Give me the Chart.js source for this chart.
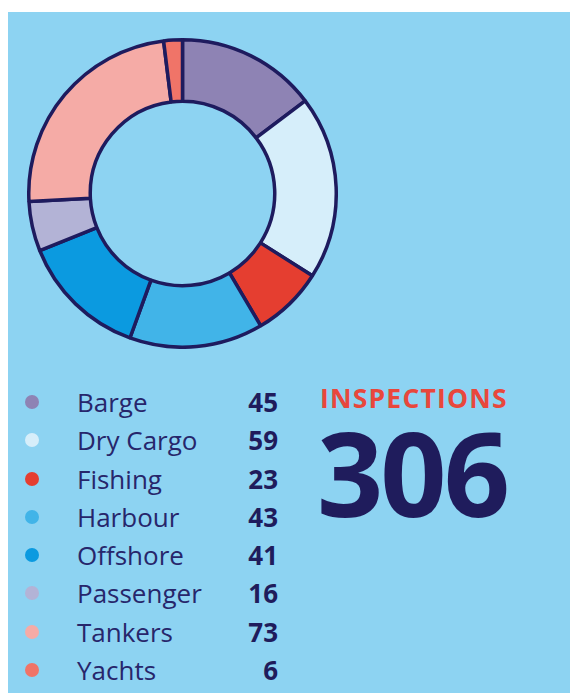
<!DOCTYPE html>
<html lang="en">
<head>
  <meta charset="UTF-8" />
  <title>Inspections</title>
  <script src="https://cdn.jsdelivr.net/npm/chart.js"></script>
  <style>
    :root {
      --panel: #8dd3f2;
      --navy: #1f1c5c;
      --red: #e8473c;
    }
    body {
      margin: 0;
      background: #ffffff;
      font-family: 'Open Sans', sans-serif;
    }
    .panel {
      position: absolute;
      left: 8px;
      top: 12px;
      width: 562px;
      height: 681px;
      background: var(--panel);
    }
    .chart-box {
      position: absolute;
      left: 19px;
      top: 26px;
      width: 311px;
      height: 311px;
    }
    .legend {
      position: absolute;
      left: 0;
      top: 371px;
      width: 290px;
    }
    .row {
      position: relative;
      height: 38.3px;
      line-height: 38.3px;
      font-size: 26px;
      color: #27266b;
    }
    .dot {
      position: absolute;
      left: 17px;
      top: 12px;
      width: 14px;
      height: 14px;
      border-radius: 50%;
    }
    .label { position: absolute; left: 69px; }
    .value {
      position: absolute;
      right: 20px;
      font-weight: 700;
      color: var(--navy);
    }
    .title {
      position: absolute;
      left: 312px;
      top: 368px;
      font-size: 26.5px;
      font-weight: 700;
      letter-spacing: 1.2px;
      color: var(--red);
    }
    .total {
      position: absolute;
      left: 309px;
      top: 381px;
      font-size: 116px;
      font-weight: 700;
      letter-spacing: -3px;
      color: var(--navy);
    }
  </style>
</head>
<body>
  <div class="panel">
    <div class="chart-box"><canvas id="donut"></canvas></div>
    <div class="legend" id="legend"></div>
    <div class="title">INSPECTIONS</div>
    <div class="total" id="total"></div>
  </div>

  <script>
    const categories = ["Barge", "Dry Cargo", "Fishing", "Harbour", "Offshore", "Passenger", "Tankers", "Yachts"];
    const inspections = [45, 59, 23, 43, 41, 16, 73, 6];
    const sliceColors = ["#8e83b4", "#d6eefa", "#e53e30", "#41b4e8", "#0b9ae0", "#b3b3d6", "#f5aba6", "#f07468"];

    const total = inspections.reduce((a, b) => a + b, 0);
    document.getElementById('total').textContent = total;

    document.getElementById('legend').innerHTML = categories.map((c, i) => `
      <div class="row">
        <span class="dot" style="background:${sliceColors[i]}"></span>
        <span class="label">${c}</span>
        <span class="value">${inspections[i]}</span>
      </div>
    `).join('');

    new Chart(document.getElementById('donut'), {
      type: 'doughnut',
      data: {
        labels: categories,
        datasets: [{
          data: inspections,
          backgroundColor: sliceColors,
          borderColor: "#1e1b5e",
          borderWidth: 3.5
        }]
      },
      options: {
        responsive: true,
        maintainAspectRatio: false,
        animation: false,
        cutout: '60%',
        plugins: {
          legend: { display: false },
          tooltip: { enabled: false }
        }
      }
    });
  </script>
</body>
</html>
